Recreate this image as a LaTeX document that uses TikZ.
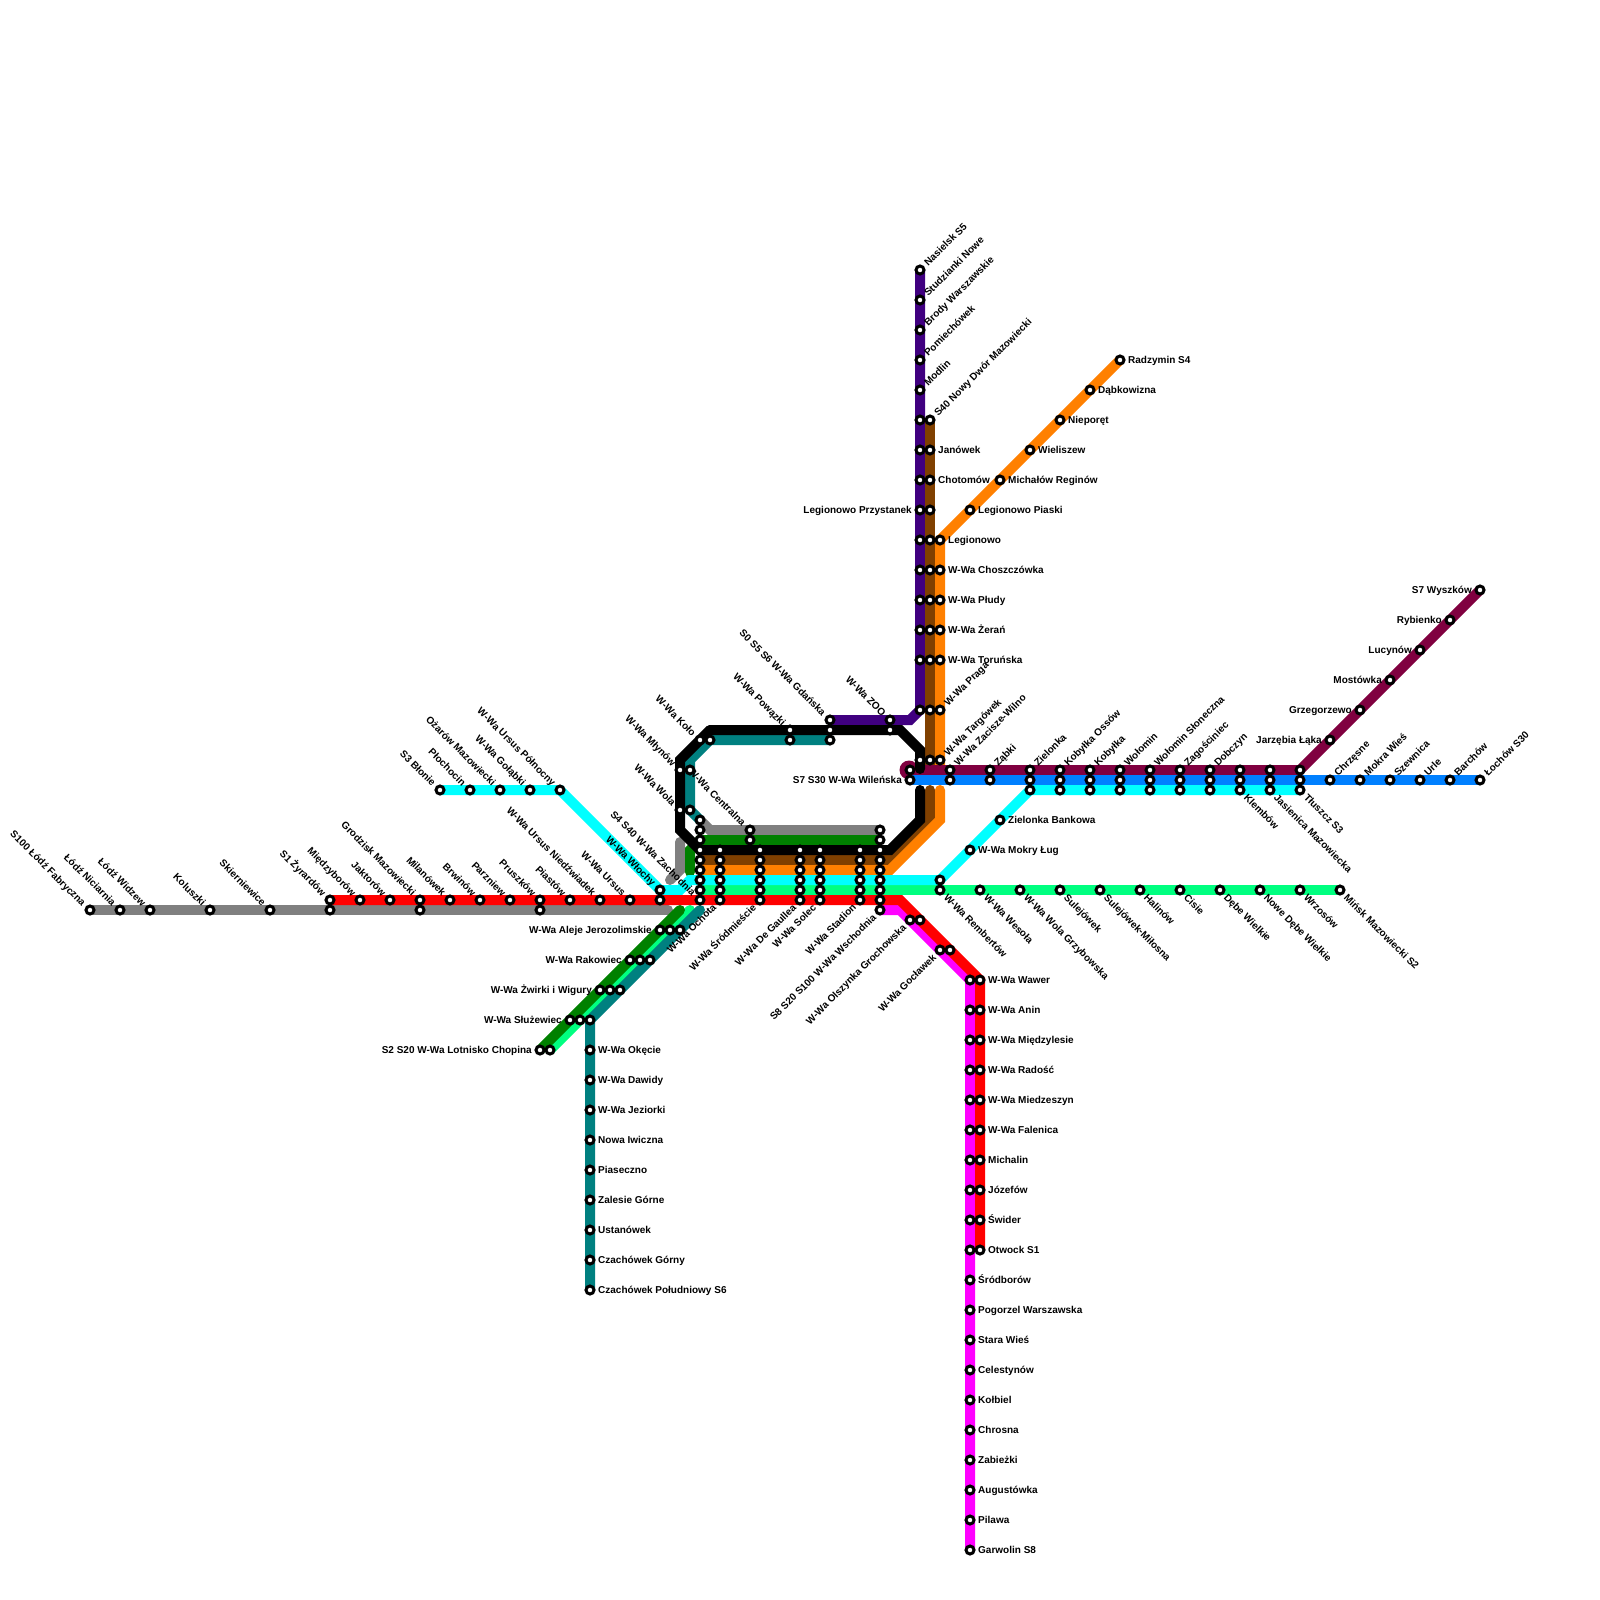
\documentclass[tikz,border=0pt]{standalone}
\usepackage{fontspec}
\setmainfont{Liberation Sans}
\pgfdeclarelayer{lines}
\pgfsetlayers{lines,main}
\definecolor{cgrey}{HTML}{808080}
\definecolor{cred}{HTML}{FF0000}
\definecolor{ccyan}{HTML}{00FFFF}
\definecolor{cspring}{HTML}{00FF80}
\definecolor{cgreen}{HTML}{008000}
\definecolor{cbrown}{HTML}{804000}
\definecolor{corange}{HTML}{FF8000}
\definecolor{cpurple}{HTML}{400080}
\definecolor{cmaroon}{HTML}{800040}
\definecolor{cblue}{HTML}{0080FF}
\definecolor{cteal}{HTML}{008080}
\definecolor{cmag}{HTML}{FF00FF}
\tikzset{
  stn/.style={circle,draw=black,fill=white,line width=3pt,minimum size=8pt,inner sep=0pt,outer sep=0pt},
  lb/.style={inner sep=0pt,text height=7.2pt,text depth=0pt,font=\fontsize{10}{12}\selectfont\bfseries},
  lbur/.style={lb,rotate=45,anchor=west,xshift=8pt},
  lbul/.style={lb,rotate=-45,anchor=east,xshift=-8pt},
  lbdr/.style={lb,rotate=-45,anchor=west,xshift=8pt},
  lbdl/.style={lb,rotate=45,anchor=east,xshift=-8pt},
  lbr/.style={lb,anchor=west,xshift=8pt},
  lbl/.style={lb,anchor=east,xshift=-8pt},
  ln/.style={draw=#1,line width=10pt,line cap=round,line join=miter,miter limit=10}
}
\newcommand{\stn}[2]{\node[stn] (n#1-#2) at (#1,#2) {};}
\newcommand{\stl}[4]{\node[stn] (n#1-#2) at (#1,#2) {};\node[lb#3] (l#1-#2) at (#1,#2) {#4};}
\newcommand{\kn}[3]{\coordinate (k#1) at (#2,#3);}
\begin{document}
\begin{tikzpicture}[x=1pt,y=-1pt]
\useasboundingbox (0,0) rectangle (1600,1600);
% corner points
\kn{a}{668}{910}\kn{b}{710}{830}\kn{c}{680}{842}\kn{d}{680}{870}\kn{e}{670}{880}
\kn{f}{700}{840}\kn{g}{690}{850}\kn{h}{690}{872}\kn{i}{680}{910}
\kn{j}{690}{910}\kn{m}{700}{910}\kn{o}{710}{740}\kn{p}{690}{760}
\kn{q}{910}{720}\kn{r}{710}{730}\kn{s}{680}{760}\kn{t}{680}{830}
\kn{u}{900}{730}\kn{v}{920}{750}\kn{w}{920}{769}\kn{x}{920}{790}\kn{y}{920}{820}\kn{z}{890}{850}
\kn{aa}{930}{768}\kn{ab}{930}{790}\kn{ac}{930}{820}\kn{ad}{890}{860}
\kn{ae}{940}{768}\kn{af}{940}{790}\kn{ag}{940}{820}\kn{ah}{890}{870}
\kn{ai}{560}{790}\kn{aj}{680}{890}\kn{ak}{690}{880}\kn{al}{900}{900}\kn{am}{900}{910}\kn{an}{970}{980}
\kn{ao}{909}{770}
% stations: west main line
\stl{90}{910}{ul}{S100 Łódź Fabryczna}
\stl{120}{910}{ul}{Łódź Niciarnia}
\stl{150}{910}{ul}{Łódź Widzew}
\stl{210}{910}{ul}{Koluszki}
\stl{270}{910}{ul}{Skierniewice}
\stn{330}{910}\stn{420}{910}\stn{540}{910}
\stl{330}{900}{ul}{S1 Żyrardów}
\stl{360}{900}{ul}{Międzyborów}
\stl{390}{900}{ul}{Jaktorów}
\stl{420}{900}{ul}{Grodzisk Mazowiecki}
\stl{450}{900}{ul}{Milanówek}
\stl{480}{900}{ul}{Brwinów}
\stl{510}{900}{ul}{Parzniew}
\stl{540}{900}{ul}{Pruszków}
\stl{570}{900}{ul}{Piastów}
\stl{600}{900}{ul}{W-Wa Ursus Niedźwiadek}
\stl{630}{900}{ul}{W-Wa Ursus}
\stn{660}{900}
\stl{660}{890}{ul}{W-Wa Włochy}
% S3 west
\stl{440}{790}{ul}{S3 Błonie}
\stl{470}{790}{ul}{Płochocin}
\stl{500}{790}{ul}{Ożarów Mazowiecki}
\stl{530}{790}{ul}{W-Wa Gołąbki}
\stl{560}{790}{ul}{W-Wa Ursus Północny}
% central columns
\foreach \y in {820,830,840,850,860,870,880,890}{\stn{700}{\y}}
\stl{700}{900}{ul}{S4 S40 W-Wa Zachodnia}
\foreach \x in {720,760,800,820,860}{\foreach \y in {850,860,870,880,890}{\stn{\x}{\y}}}
\stl{720}{900}{dl}{W-Wa Ochota}
\stl{760}{900}{dl}{W-Wa Śródmieście}
\stl{800}{900}{dl}{W-Wa De Gaullea}
\stl{820}{900}{dl}{W-Wa Solec}
\stl{860}{900}{dl}{W-Wa Stadion}
\foreach \y in {830,840,850,860,870,880,890,900}{\stn{880}{\y}}
\stl{880}{910}{dl}{S8 S20 S100 W-Wa Wschodnia}
\stl{750}{830}{ul}{W-Wa Centralna}
\stn{750}{840}
% northern ring
\stl{680}{810}{ul}{W-Wa Wola}\stn{690}{810}
\stl{680}{770}{ul}{W-Wa Młynów}\stn{690}{770}
\stl{700}{740}{ul}{W-Wa Koło}\stn{710}{740}
\stl{790}{730}{ul}{W-Wa Powązki}\stn{790}{740}
\stl{830}{720}{ul}{S0 S5 S6 W-Wa Gdańska}\stn{830}{730}\stn{830}{740}
\stl{890}{720}{ul}{W-Wa ZOO}\stn{890}{730}
% purple north
\stl{920}{270}{ur}{Nasielsk S5}
\stl{920}{300}{ur}{Studzianki Nowe}
\stl{920}{330}{ur}{Brody Warszawskie}
\stl{920}{360}{ur}{Pomiechówek}
\stl{920}{390}{ur}{Modlin}
\stn{920}{420}\stl{930}{420}{ur}{S40 Nowy Dwór Mazowiecki}
\stn{920}{450}\stl{930}{450}{r}{Janówek}
\stn{920}{480}\stl{930}{480}{r}{Chotomów}
\stl{920}{510}{l}{Legionowo Przystanek}\stn{930}{510}
\stn{920}{540}\stn{930}{540}\stl{940}{540}{r}{Legionowo}
\stn{920}{570}\stn{930}{570}\stl{940}{570}{r}{W-Wa Choszczówka}
\stn{920}{600}\stn{930}{600}\stl{940}{600}{r}{W-Wa Płudy}
\stn{920}{630}\stn{930}{630}\stl{940}{630}{r}{W-Wa Żerań}
\stn{920}{660}\stn{930}{660}\stl{940}{660}{r}{W-Wa Toruńska}
\stn{920}{710}\stn{930}{710}\stl{940}{710}{ur}{W-Wa Praga}
\stn{920}{760}\stn{930}{760}\stl{940}{760}{ur}{W-Wa Targówek}
% orange diagonal
\stl{1120}{360}{r}{Radzymin S4}
\stl{1090}{390}{r}{Dąbkowizna}
\stl{1060}{420}{r}{Nieporęt}
\stl{1030}{450}{r}{Wieliszew}
\stl{1000}{480}{r}{Michałów Reginów}
\stl{970}{510}{r}{Legionowo Piaski}
% east lines
\stn{910}{770}\stl{910}{780}{l}{S7 S30 W-Wa Wileńska}
\stl{950}{770}{ur}{W-Wa Zacisze-Wilno}\stn{950}{780}
\stl{990}{770}{ur}{Ząbki}\stn{990}{780}
\stl{1030}{770}{ur}{Zielonka}
\stl{1060}{770}{ur}{Kobyłka Ossów}
\stl{1090}{770}{ur}{Kobyłka}
\stl{1120}{770}{ur}{Wołomin}
\stl{1150}{770}{ur}{Wołomin Słoneczna}
\stl{1180}{770}{ur}{Zagościniec}
\stl{1210}{770}{ur}{Dobczyn}
\stn{1240}{770}\stn{1270}{770}\stn{1300}{770}
\foreach \x in {1030,1060,1090,1120,1150,1180,1210,1240,1270,1300}{\stn{\x}{780}}
\foreach \x in {1030,1060,1090,1120,1150,1180,1210}{\stn{\x}{790}}
\stl{1240}{790}{dr}{Klembów}
\stl{1270}{790}{dr}{Jasienica Mazowiecka}
\stl{1300}{790}{dr}{Tłuszcz S3}
\stl{1330}{780}{ur}{Chrzęsne}
\stl{1360}{780}{ur}{Mokra Wieś}
\stl{1390}{780}{ur}{Szewnica}
\stl{1420}{780}{ur}{Urle}
\stl{1450}{780}{ur}{Barchów}
\stl{1480}{780}{ur}{Łochów S30}
\stl{1330}{740}{l}{Jarzębia Łąka}
\stl{1360}{710}{l}{Grzegorzewo}
\stl{1390}{680}{l}{Mostówka}
\stl{1420}{650}{l}{Lucynów}
\stl{1450}{620}{l}{Rybienko}
\stl{1480}{590}{l}{S7 Wyszków}
\stl{1000}{820}{r}{Zielonka Bankowa}
\stl{970}{850}{r}{W-Wa Mokry Ług}
\stn{940}{880}
\stl{940}{890}{dr}{W-Wa Rembertów}
\stl{980}{890}{dr}{W-Wa Wesoła}
\stl{1020}{890}{dr}{W-Wa Wola Grzybowska}
\stl{1060}{890}{dr}{Sulejówek}
\stl{1100}{890}{dr}{Sulejówek-Miłosna}
\stl{1140}{890}{dr}{Halinów}
\stl{1180}{890}{dr}{Cisie}
\stl{1220}{890}{dr}{Dębe Wielkie}
\stl{1260}{890}{dr}{Nowe Dębe Wielkie}
\stl{1300}{890}{dr}{Wrzosów}
\stl{1340}{890}{dr}{Mińsk Mazowiecki S2}
% south-east
\stl{910}{920}{dl}{W-Wa Olszynka Grochowska}\stn{920}{920}
\stl{940}{950}{dl}{W-Wa Gocławek}\stn{950}{950}
\foreach \y in {980,1010,1040,1070,1100,1130,1160,1190,1220,1250}{\stn{970}{\y}}
\stl{980}{980}{r}{W-Wa Wawer}
\stl{980}{1010}{r}{W-Wa Anin}
\stl{980}{1040}{r}{W-Wa Międzylesie}
\stl{980}{1070}{r}{W-Wa Radość}
\stl{980}{1100}{r}{W-Wa Miedzeszyn}
\stl{980}{1130}{r}{W-Wa Falenica}
\stl{980}{1160}{r}{Michalin}
\stl{980}{1190}{r}{Józefów}
\stl{980}{1220}{r}{Świder}
\stl{980}{1250}{r}{Otwock S1}
\stl{970}{1280}{r}{Śródborów}
\stl{970}{1310}{r}{Pogorzel Warszawska}
\stl{970}{1340}{r}{Stara Wieś}
\stl{970}{1370}{r}{Celestynów}
\stl{970}{1400}{r}{Kołbiel}
\stl{970}{1430}{r}{Chrosna}
\stl{970}{1460}{r}{Zabieżki}
\stl{970}{1490}{r}{Augustówka}
\stl{970}{1520}{r}{Pilawa}
\stl{970}{1550}{r}{Garwolin S8}
% south-west
\stl{660}{930}{l}{W-Wa Aleje Jerozolimskie}\stn{670}{930}\stn{680}{930}
\stl{630}{960}{l}{W-Wa Rakowiec}\stn{640}{960}\stn{650}{960}
\stl{600}{990}{l}{W-Wa Żwirki i Wigury}\stn{610}{990}\stn{620}{990}
\stl{570}{1020}{l}{W-Wa Służewiec}\stn{580}{1020}\stn{590}{1020}
\stl{540}{1050}{l}{S2 S20 W-Wa Lotnisko Chopina}\stn{550}{1050}
\stl{590}{1050}{r}{W-Wa Okęcie}
\stl{590}{1080}{r}{W-Wa Dawidy}
\stl{590}{1110}{r}{W-Wa Jeziorki}
\stl{590}{1140}{r}{Nowa Iwiczna}
\stl{590}{1170}{r}{Piaseczno}
\stl{590}{1200}{r}{Zalesie Górne}
\stl{590}{1230}{r}{Ustanówek}
\stl{590}{1260}{r}{Czachówek Górny}
\stl{590}{1290}{r}{Czachówek Południowy S6}
\begin{pgfonlayer}{lines}
\fill[white] (0,0) rectangle (1600,1600);
% grey
\draw[ln=cgrey] (n90-910.center) -- (ka);
\draw[ln=cgrey] (n880-830.center) -- (kb) -- (n700-820.center);
\draw[ln=cgrey] (kc) -- (kd) -- (ke);
% spring
\draw[ln=cspring] (kj) -- (n550-1050.center);
\draw[ln=cspring] (n700-890.center) -- (n1340-890.center);
% green
\draw[ln=cgreen] (n880-840.center) -- (kf) -- (kg) -- (kh);
\draw[ln=cgreen] (ki) -- (n540-1050.center);
% teal
\draw[ln=cteal] (km) -- (n590-1020.center) -- (n590-1290.center);
\draw[ln=cteal] (n830-740.center) -- (ko) -- (kp) -- (n690-810.center) -- (n700-820.center);
% purple
\draw[ln=cpurple] (n920-270.center) -- (n920-710.center) -- (kq) -- (n830-720.center);
% brown, orange
\draw[ln=cbrown] (n930-420.center) -- (kaa);
\draw[ln=cbrown] (kab) -- (kac) -- (kad) -- (n700-860.center);
\draw[ln=corange] (n1120-360.center) -- (n940-540.center) -- (kae);
\draw[ln=corange] (kaf) -- (kag) -- (kah) -- (n700-870.center);
% cyan
\draw[ln=ccyan] (n440-790.center) -- (kai) -- (n660-890.center) -- (kaj) -- (kak) -- (n940-880.center) -- (n1030-790.center) -- (n1300-790.center);
% maroon
\fill[cmaroon] (kao) circle[radius=9.5pt];
\draw[ln=cmaroon] (n910-770.center) -- (n1300-770.center) -- (n1480-590.center);
% black
\draw[ln=black] (kr) -- (ku) -- (kv) -- (kw);
\draw[ln=black] (kr) -- (ks) -- (kt) -- (n700-850.center) -- (kz) -- (ky) -- (kx);
% blue
\draw[draw=cblue,line width=10pt] (n910-780.center) -- (n1480-780.center);
% red, magenta
\draw[ln=cmag] (n880-910.center) -- (kam) -- (kan) -- (n970-1550.center);
\draw[ln=cred] (n330-900.center) -- (kal) -- (n980-980.center) -- (n980-1250.center);
\end{pgfonlayer}
\end{tikzpicture}
\end{document}
